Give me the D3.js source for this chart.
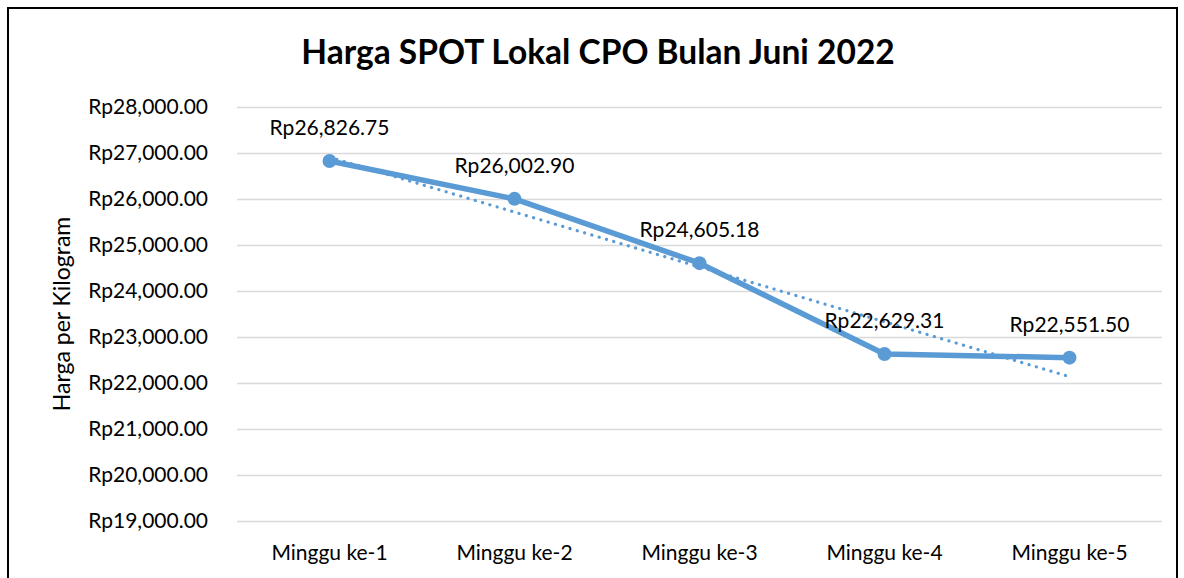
<!DOCTYPE html>
<html>
<head>
<meta charset="utf-8">
<script src="https://cdn.jsdelivr.net/npm/d3@7"></script>
<style>
	body { margin: 0; background: #fff; }
	svg text { font-family: Lato, "Open Sans", sans-serif; fill: #000; }
</style>
</head>
<body>
<svg id="chart" width="1184" height="578"></svg>
<script>
var categories = ["Minggu ke-1", "Minggu ke-2", "Minggu ke-3", "Minggu ke-4", "Minggu ke-5"];
var prices = [26826.75, 26002.90, 24605.18, 22629.31, 22551.50];
var yTicks = [19000, 20000, 21000, 22000, 23000, 24000, 25000, 26000, 27000, 28000];
// dotted linear trendline, ends
var trend = [26908, 22138];

var svg = d3.select("#chart"),
	width = 1184,
	height = 578,
	margin = {top: 107, right: 22, bottom: 57, left: 237};

svg.append("rect")
	.attr("x", 8).attr("y", 8)
	.attr("width", 1169).attr("height", 580)
	.attr("fill", "#fff")
	.attr("stroke", "#000")
	.attr("stroke-width", 2);

var x = d3.scaleBand()
	.domain(categories)
	.range([margin.left, width - margin.right]);
var y = d3.scaleLinear()
	.domain([19000, 28000])
	.range([height - margin.bottom, margin.top]);

var fmt = function(v) { return "Rp" + d3.format(",.2f")(v); };

// gridlines + y labels
var yAxis = d3.axisLeft(y).tickValues(yTicks).tickFormat(fmt).tickSize(0).tickPadding(29);
var gy = svg.append("g")
	.attr("transform", "translate(" + margin.left + ",0)")
	.call(yAxis);
gy.select(".domain").remove();
gy.selectAll("text").style("font-size", "21px").attr("fill", "#000");
gy.selectAll(".tick")
	.append("line")
	.attr("x1", 0)
	.attr("x2", width - margin.left - margin.right)
	.attr("stroke", "#d9d9d9")
	.attr("stroke-width", 1.5);

// x labels
var xAxis = d3.axisBottom(x).tickSize(0).tickPadding(24);
var gx = svg.append("g")
	.attr("transform", "translate(0," + (height - margin.bottom) + ")")
	.call(xAxis);
gx.select(".domain").remove();
gx.selectAll("text").style("font-size", "21px").attr("fill", "#000");

var cx = function(d, i) { return x(categories[i]) + x.bandwidth() / 2; };

// trendline
svg.append("line")
	.attr("x1", x(categories[0]) + x.bandwidth() / 2)
	.attr("y1", y(trend[0]))
	.attr("x2", x(categories[4]) + x.bandwidth() / 2)
	.attr("y2", y(trend[1]))
	.attr("stroke", "#5b9bd5")
	.attr("stroke-width", 3.2)
	.attr("stroke-linecap", "round")
	.attr("stroke-dasharray", "0.1 7.5");

// series
var line = d3.line()
	.x(cx)
	.y(function(d) { return y(d); });
svg.append("path")
	.datum(prices)
	.attr("d", line)
	.attr("fill", "none")
	.attr("stroke", "#5b9bd5")
	.attr("stroke-width", 5.5)
	.attr("stroke-linejoin", "round");
svg.selectAll("circle.pt")
	.data(prices).enter()
	.append("circle")
	.attr("class", "pt")
	.attr("cx", cx)
	.attr("cy", function(d) { return y(d); })
	.attr("r", 7)
	.attr("fill", "#5b9bd5");

// data labels
svg.selectAll("text.lbl")
	.data(prices).enter()
	.append("text")
	.attr("class", "lbl")
	.attr("x", cx)
	.attr("y", function(d) { return y(d) - 26; })
	.attr("text-anchor", "middle")
	.style("font-size", "21px")
	.text(fmt);

// title
svg.append("text")
	.attr("x", 598).attr("y", 64)
	.attr("text-anchor", "middle")
	.style("font-size", "33.5px")
	.style("font-weight", "bold")
	.text("Harga SPOT Lokal CPO Bulan Juni 2022");

// y axis title
svg.append("text")
	.attr("transform", "translate(70," + ((margin.top + height - margin.bottom) / 2) + ") rotate(-90)")
	.attr("text-anchor", "middle")
	.style("font-size", "23px")
	.text("Harga per Kilogram");
</script>
</body>
</html>
